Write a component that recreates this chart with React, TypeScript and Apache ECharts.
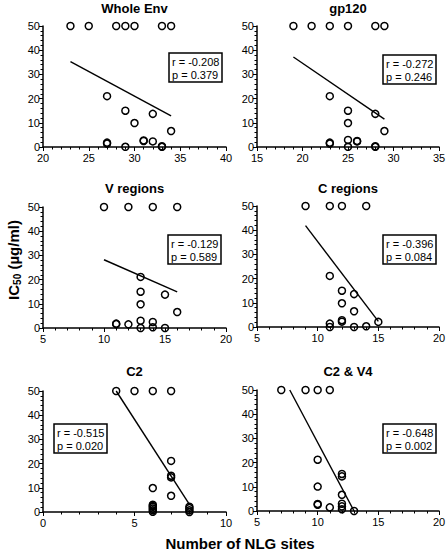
import React, { useEffect, useRef } from "react";
import * as echarts from "echarts";

const FONT = '"Liberation Sans", Arial, Helvetica, sans-serif';

// ---- data ----
const panelTitles = ["Whole Env", "gp120", "V regions", "C regions", "C2", "C2 & V4"];
const xMins = [20, 15, 5, 5, 0, 5];
const xMaxs = [40, 35, 20, 20, 10, 20];
const yTicks = [0, 10, 20, 30, 40, 50];
const statR = ["-0.208", "-0.272", "-0.129", "-0.396", "-0.515", "-0.648"];
const statP = ["0.379", "0.246", "0.589", "0.084", "0.020", "0.002"];

const wholeEnvX = [23, 25, 28, 29, 30, 33, 34, 27, 29, 32, 30, 34, 27, 27, 29, 31, 31, 32, 33, 33];
const wholeEnvY = [50, 50, 50, 50, 50, 50, 50, 21, 15, 13.7, 9.9, 6.6, 1.8, 1.4, 0.1, 2.7, 2.5, 2.3, 0.3, 0.1];

const gp120X = [19, 21, 23, 25, 28, 29, 23, 25, 28, 25, 29, 23, 23, 25, 26, 26, 25, 28, 28];
const gp120Y = [50, 50, 50, 50, 50, 50, 21, 15, 13.7, 9.9, 6.6, 1.8, 1.4, 2.9, 2.5, 2.3, 0.1, 0.3, 0.1];

const vRegX = [10, 12, 14, 16, 13, 13, 15, 13, 16, 11, 11, 12, 13, 13, 14, 14, 15];
const vRegY = [50, 50, 50, 50, 21.1, 15, 13.8, 9.8, 6.6, 1.8, 1.6, 1.5, 3.0, 0, 2.5, 0.3, 0];

const cRegX = [9, 11, 12, 14, 11, 12, 13, 12, 13, 11, 11, 12, 12, 13, 14, 15];
const cRegY = [50, 50, 50, 50, 21.1, 15, 13.6, 9.8, 6.5, 1.4, 0, 2.8, 2.2, 0, 0.3, 2.1];

const c2X = [4, 5, 6, 7, 7, 7, 7, 6, 7, 6, 6, 6, 6, 6, 6, 8, 8, 8, 8];
const c2Y = [50, 50, 50, 50, 21.1, 15, 14.3, 9.9, 6.7, 3.0, 2.5, 2.1, 1.4, 0.7, 0.1, 2.2, 1.6, 0.7, 0];

const c2v4X = [7, 9, 10, 11, 10, 12, 12, 10, 12, 10, 10, 11, 12, 12, 12, 13];
const c2v4Y = [50, 50, 50, 50, 21.2, 15.3, 14.3, 10.1, 6.7, 2.9, 2.6, 1.5, 3.0, 1.9, 0.7, 0];

const fitWholeEnv = [[23, 35.3], [34, 12.9]];
const fitGp120 = [[19, 37.2], [29, 11.5]];
const fitVReg = [[10, 28.2], [16, 14.9]];
const fitCReg = [[9, 41.9], [15, 2.3]];
const fitC2 = [[4, 50], [8, 3.2]];
const fitC2V4 = [[7.7, 50], [13, 0]];

const xs = [wholeEnvX, gp120X, vRegX, cRegX, c2X, c2v4X];
const ys = [wholeEnvY, gp120Y, vRegY, cRegY, c2Y, c2v4Y];
const fits = [fitWholeEnv, fitGp120, fitVReg, fitCReg, fitC2, fitC2V4];

// ---- layout ----
const grids = [
  { left: 43, top: 26, width: 183, height: 121 },
  { left: 257, top: 26, width: 182, height: 121 },
  { left: 43, top: 207, width: 183, height: 121 },
  { left: 257, top: 206, width: 182, height: 121 },
  { left: 43, top: 391, width: 183, height: 121 },
  { left: 257, top: 390, width: 182, height: 121 },
];
const titlePos = [
  [134.5, 8], [348, 8], [134.5, 188], [348, 188], [134.5, 371], [348, 371],
];
const boxPos = [
  [169, 53], [383, 55], [168, 235], [383, 235], [54, 424], [383, 424],
];

export default function App() {
  const ref = useRef<HTMLDivElement>(null);
  useEffect(() => {
    if (!ref.current) return;
    const chart = echarts.init(ref.current, null, { renderer: "svg" });
    const axisCommon = {
      type: "value" as const,
      axisLine: { show: true, onZero: false, lineStyle: { color: "#000", width: 1.5 } },
      axisTick: { show: true, inside: false, length: 4, lineStyle: { color: "#000", width: 1 } },
      minorTick: { show: true, splitNumber: 5, length: 2.5, lineStyle: { color: "#000", width: 1 } },
      splitLine: { show: false },
      minorSplitLine: { show: false },
    };
    const series: any[] = [];
    xs.forEach((xArr, i) => {
      series.push({
        type: "scatter",
        xAxisIndex: i,
        yAxisIndex: i,
        data: xArr.map((x, k) => [x, ys[i][k]]),
        symbol: "circle",
        symbolSize: 7,
        clip: false,
        itemStyle: { color: "rgba(0,0,0,0)", borderColor: "#000", borderWidth: 1.5, opacity: 1 },
        z: 3,
      });
      series.push({
        type: "line",
        xAxisIndex: i,
        yAxisIndex: i,
        data: fits[i],
        showSymbol: false,
        symbol: "none",
        clip: false,
        lineStyle: { color: "#000", width: 1.4 },
        z: 2,
      });
    });
    const option: any = {
      animation: false,
      backgroundColor: "#fff",
      grid: grids.map((g) => ({ ...g, containLabel: false, outerBoundsMode: "none" })),
      xAxis: xMins.map((mn, i) => ({
        ...axisCommon,
        gridIndex: i,
        min: mn,
        max: xMaxs[i],
        interval: 5,
        axisLabel: { fontFamily: FONT, fontSize: 11, color: "#000", margin: 5, showMinLabel: true, showMaxLabel: true, hideOverlap: false },
      })),
      yAxis: xMins.map((_, i) => ({
        ...axisCommon,
        gridIndex: i,
        min: yTicks[0],
        max: yTicks[yTicks.length - 1],
        interval: 10,
        axisLabel: { fontFamily: FONT, fontSize: 11, color: "#000", margin: 3, showMinLabel: true, showMaxLabel: true, hideOverlap: false },
      })),
      title: boxPos.map((p, i) => ({
        text: `r = ${statR[i]}\np = ${statP[i]}`,
        left: p[0],
        top: p[1],
        padding: [2, 3, 1, 3],
        borderColor: "#000",
        borderWidth: 1.5,
        backgroundColor: "#fff",
        textStyle: { fontFamily: FONT, fontSize: 11, fontWeight: "normal", color: "#000", lineHeight: 13 },
      })),
      graphic: [
        ...panelTitles.map((t, i) => ({
          type: "text",
          x: titlePos[i][0],
          y: titlePos[i][1],
          style: {
            text: t,
            fontFamily: FONT,
            fontSize: 13,
            fontWeight: "bold",
            fill: "#000",
            align: "center",
            verticalAlign: "middle",
          },
        })),
        {
          type: "text",
          x: 240,
          y: 543,
          style: {
            text: "Number of NLG sites",
            fontFamily: FONT,
            fontSize: 15,
            fontWeight: "bold",
            fill: "#000",
            align: "center",
            verticalAlign: "middle",
          },
        },
        {
          type: "text",
          x: 13,
          y: 260,
          rotation: Math.PI / 2,
          style: {
            text: "{a|IC}{b|50}{a| (µg/ml)}",
            align: "center",
            verticalAlign: "middle",
            fill: "#000",
            rich: {
              a: { fontFamily: FONT, fontSize: 15, fontWeight: "bold", fill: "#000", lineHeight: 18 },
              b: { fontFamily: FONT, fontSize: 10, fontWeight: "bold", fill: "#000", lineHeight: 18, verticalAlign: "bottom", padding: [6, 0, 0, 0] },
            },
          },
        },
      ],
      series,
    };
    chart.setOption(option);
    return () => chart.dispose();
  }, []);
  return (
    <div
      ref={ref}
      style={{ position: "fixed", left: 0, top: 0, width: 448, height: 552, background: "#fff" }}
    />
  );
}
